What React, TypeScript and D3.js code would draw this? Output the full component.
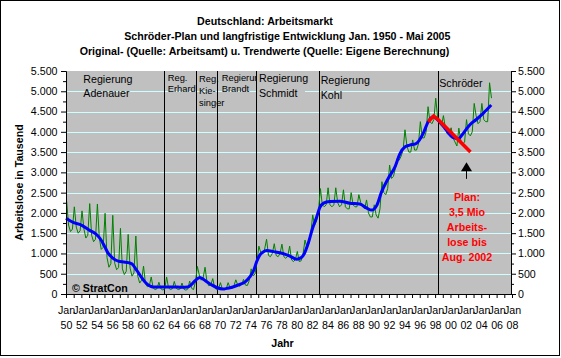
import React, { useEffect, useRef } from 'react';
import * as d3 from 'd3';

// Arbeitslose in Tausend (Original), je Jahr Werte fuer Feb, Mai, Aug, Nov
const sampleMonths = [2, 5, 8, 11];
const original = [
    [1950, 2290, 1700, 1540, 1600],
    [1951, 2150, 1650, 1500, 1560],
    [1952, 2050, 1600, 1380, 1450],
    [1953, 2230, 1450, 1290, 1350],
    [1954, 2220, 1380, 1100, 1150],
    [1955, 1990, 900, 660, 750],
    [1956, 1940, 760, 600, 650],
    [1957, 1620, 620, 480, 560],
    [1958, 1470, 640, 440, 520],
    [1959, 1430, 440, 270, 340],
    [1960, 690, 250, 180, 200],
    [1961, 420, 150, 110, 130],
    [1962, 290, 130, 100, 120],
    [1963, 420, 150, 110, 130],
    [1964, 310, 140, 110, 125],
    [1965, 270, 120, 95, 120],
    [1966, 320, 140, 110, 300],
    [1967, 680, 470, 340, 400],
    [1968, 660, 300, 200, 230],
    [1969, 380, 150, 110, 130],
    [1970, 280, 120, 100, 130],
    [1971, 280, 150, 130, 200],
    [1972, 350, 220, 190, 230],
    [1973, 360, 220, 210, 330],
    [1974, 620, 450, 490, 800],
    [1975, 1180, 1020, 1000, 1110],
    [1976, 1350, 950, 920, 1000],
    [1977, 1240, 950, 920, 1000],
    [1978, 1230, 920, 880, 930],
    [1979, 1180, 840, 800, 850],
    [1980, 1050, 800, 820, 1000],
    [1981, 1330, 1150, 1250, 1500],
    [1982, 1950, 1700, 1800, 2050],
    [1983, 2600, 2200, 2150, 2200],
    [1984, 2620, 2200, 2150, 2200],
    [1985, 2620, 2250, 2150, 2200],
    [1986, 2570, 2150, 2100, 2100],
    [1987, 2500, 2200, 2150, 2150],
    [1988, 2450, 2250, 2150, 2100],
    [1989, 2320, 2000, 1900, 1900],
    [1990, 2200, 1950, 1870, 2100],
    [1991, 2770, 2500, 2450, 2600],
    [1992, 3180, 2850, 2900, 3100],
    [1993, 3350, 3300, 3400, 3550],
    [1994, 4050, 3650, 3500, 3500],
    [1995, 3800, 3550, 3550, 3700],
    [1996, 4250, 3850, 3850, 4000],
    [1997, 4620, 4250, 4200, 4300],
    [1998, 4830, 4350, 4200, 4150],
    [1999, 4400, 4100, 3950, 3950],
    [2000, 4100, 3850, 3750, 3650],
    [2001, 4090, 3800, 3700, 3750],
    [2002, 4300, 3950, 3900, 4000],
    [2003, 4700, 4400, 4200, 4250],
    [2004, 4700, 4300, 4250, 4250],
    [2005, 5210, 4830]
];

// Trendwerte [Jahr, Tausend]
const trend = [
    [1950.0, 1870], [1951.0, 1760], [1952.0, 1700], [1953.0, 1580], [1954.0, 1460],
    [1954.5, 1350], [1955.0, 1180], [1955.5, 1000], [1956.0, 900], [1956.8, 810],
    [1957.5, 790], [1958.1, 775], [1958.6, 740], [1959.0, 640], [1959.5, 500],
    [1959.9, 390], [1960.4, 270], [1960.8, 210], [1961.3, 175], [1962.0, 170],
    [1963.0, 170], [1964.0, 175], [1965.0, 165], [1965.8, 170], [1966.3, 230],
    [1966.8, 330], [1967.4, 410], [1967.9, 360], [1968.4, 290], [1968.9, 230],
    [1969.6, 160], [1970.4, 125], [1971.0, 140], [1971.8, 180], [1972.6, 235],
    [1973.3, 300], [1973.9, 420], [1974.4, 580], [1974.8, 800], [1975.2, 960],
    [1975.6, 1030], [1976.1, 1070], [1977.0, 1045], [1978.2, 1000], [1979.1, 935],
    [1980.0, 860], [1980.6, 900], [1981.0, 1000], [1981.5, 1250], [1982.0, 1580],
    [1982.6, 1900], [1983.0, 2130], [1983.5, 2240], [1984.3, 2280], [1985.6, 2290],
    [1986.9, 2240], [1988.2, 2220], [1989.1, 2120], [1989.75, 2070], [1990.4, 2180],
    [1991.0, 2500], [1991.9, 2850], [1992.8, 3140], [1993.4, 3450], [1994.1, 3630],
    [1994.7, 3670], [1995.6, 3720], [1996.5, 3980], [1997.1, 4250], [1997.8, 4370],
    [1998.5, 4260], [1999.3, 4080], [2000.3, 3860], [2001.0, 3830], [2001.65, 3960],
    [2002.5, 4170], [2003.4, 4310], [2004.25, 4455], [2005.3, 4660]
];

// Schroeder-Plan: 3,5 Mio bis Aug. 2002
const plan = [[1997.1, 4250], [1997.8, 4390], [1998.4, 4300], [2002.6, 3500]];
const planArrow = { year: 2002, from: 2840, to: 3250 };
const planText = ['Plan:', '3,5 Mio', 'Arbeits-', 'lose bis', 'Aug. 2002'];

// Regierungswechsel
const governments = [
    { start: 1950, labelAt: 1952.25, lines: ['Regierung', 'Adenauer'], small: false, top: 82.7, gap: 14.7 },
    { start: 1962.74, labelAt: 1963.23, lines: ['Reg.', 'Erhard'], small: true, top: 81, gap: 11.3 },
    { start: 1966.91, labelAt: 1967.3, lines: ['Reg.', 'Kie-', 'singer'], small: true, top: 81.5, gap: 12.3 },
    { start: 1969.6, labelAt: 1970.25, lines: ['Regierung', 'Brandt'], small: true, top: 81, gap: 10.7 },
    { start: 1974.71, labelAt: 1975.1, lines: ['Regierung', 'Schmidt'], small: false, top: 82.3, gap: 15 },
    { start: 1982.9, labelAt: 1983.12, lines: ['Regierung', 'Kohl'], small: false, top: 84, gap: 15.3 },
    { start: 1998.37, labelAt: 1998.54, lines: ['Schröder'], small: false, top: 86.7, gap: 15 }
];

const yTicks = [0, 500, 1000, 1500, 2000, 2500, 3000, 3500, 4000, 4500, 5000, 5500];
const yMinorTicks = [250, 750, 1250, 1750, 2250, 2750, 3250, 3750, 4250, 4750, 5250];
const xLabelYears = [1950, 1952, 1954, 1956, 1958, 1960, 1962, 1964, 1966, 1968, 1970, 1972, 1974,
    1976, 1978, 1980, 1982, 1984, 1986, 1988, 1990, 1992, 1994, 1996, 1998, 2000, 2002, 2004, 2006, 2008];

const titleLines = [
    'Deutschland: Arbeitsmarkt',
    'Schröder-Plan und langfristige Entwicklung Jan. 1950 -  Mai 2005',
    'Original- (Quelle: Arbeitsamt) u. Trendwerte (Quelle: Eigene Berechnung)'
];

const FONT = '"Liberation Sans", Arial, Helvetica, sans-serif';
const FS = 10.67;
const FS_SMALL = 9.33;

const de = d3.formatLocale({ decimal: ',', thousands: '.', grouping: [3], currency: ['', ' €'] });
const fmt = de.format(',');

const App = () => {
    const svgRef = useRef(null);

    useEffect(() => {
        const svg = d3.select(svgRef.current);
        svg.selectAll('*').remove();

        const x = d3.scaleLinear().domain([1950, 2008]).range([66, 512]);
        const y = d3.scaleLinear().domain([0, 5500]).range([294, 71]);

        // chart frame
        svg.append('rect')
            .attr('x', 0.5).attr('y', 0.5).attr('width', 559).attr('height', 355)
            .attr('fill', '#ffffff').attr('stroke', '#000000');

        // title
        const titleX = [265, 287.3, 264.5];
        const titleY = [25, 40, 55];
        titleLines.forEach((t, i) => {
            svg.append('text')
                .attr('x', titleX[i]).attr('y', titleY[i])
                .attr('text-anchor', 'middle')
                .attr('font-family', FONT).attr('font-size', FS).attr('font-weight', 'bold')
                .text(t);
        });

        // plot area
        svg.append('rect')
            .attr('x', x(1950)).attr('y', y(5500))
            .attr('width', x(2008) - x(1950)).attr('height', y(0) - y(5500))
            .attr('fill', '#c0c0c0');

        svg.append('g')
            .selectAll('line')
            .data(yTicks.filter(d => d > 0 && d < 5500))
            .join('line')
            .attr('x1', x(1950)).attr('x2', x(2008))
            .attr('y1', d => Math.round(y(d)) + 0.5).attr('y2', d => Math.round(y(d)) + 0.5)
            .attr('stroke', '#ccffff');

        // government change lines
        svg.append('g')
            .selectAll('line')
            .data(governments.filter(g => g.start > 1950))
            .join('line')
            .attr('x1', d => Math.round(x(d.start)) + 0.5).attr('x2', d => Math.round(x(d.start)) + 0.5)
            .attr('y1', y(5500)).attr('y2', y(0))
            .attr('stroke', '#000000');

        // series
        const origPoints = [];
        original.forEach(row => {
            row.slice(1).forEach((v, i) => {
                origPoints.push([row[0] + (sampleMonths[i] - 1) / 12, v]);
            });
        });
        const line = d3.line().x(d => x(d[0])).y(d => y(d[1]));

        svg.append('path').datum(origPoints)
            .attr('d', line).attr('fill', 'none')
            .attr('stroke', '#008000').attr('stroke-width', 1);

        svg.append('path').datum(trend)
            .attr('d', line.curve(d3.curveMonotoneX)).attr('fill', 'none')
            .attr('stroke', '#0000ff').attr('stroke-width', 3);

        svg.append('path').datum(plan)
            .attr('d', d3.line().x(d => x(d[0])).y(d => y(d[1]))).attr('fill', 'none')
            .attr('stroke', '#ff0000').attr('stroke-width', 3.5);

        // government labels
        governments.forEach((g, gi) => {
            const lx = x(g.labelAt);
            if (gi === 4) {
                // Schmidt label box hides the end of Brandt's label
                svg.append('rect')
                    .attr('x', Math.round(x(g.start)) + 1).attr('y', 73)
                    .attr('width', 48).attr('height', 28)
                    .attr('fill', '#c0c0c0');
            }
            g.lines.forEach((t, i) => {
                svg.append('text')
                    .attr('x', lx).attr('y', g.top + i * g.gap)
                    .attr('font-family', FONT)
                    .attr('font-size', g.small ? FS_SMALL : FS)
                    .text(t);
            });
        });

        // y axes
        const styleAxis = (g) => {
            g.attr('font-family', FONT).attr('font-size', FS);
            g.selectAll('text').attr('fill', '#000000');
            g.selectAll('line, path').attr('stroke', '#000000');
        };

        svg.append('g')
            .attr('transform', `translate(${x(1950)},0)`)
            .call(d3.axisLeft(y).tickValues(yTicks).tickFormat(fmt).tickSize(5).tickPadding(3.5).tickSizeOuter(0))
            .call(styleAxis);
        svg.append('g')
            .attr('transform', `translate(${x(1950)},0)`)
            .call(d3.axisLeft(y).tickValues(yMinorTicks).tickFormat(() => '').tickSize(3).tickSizeOuter(0))
            .call(styleAxis);

        svg.append('g')
            .attr('transform', `translate(${x(2008) - 1},0)`)
            .call(d3.axisRight(y).tickValues(yTicks).tickFormat(fmt).tickSize(5).tickPadding(2).tickSizeOuter(0))
            .call(styleAxis);
        svg.append('g')
            .attr('transform', `translate(${x(2008) - 1},0)`)
            .call(d3.axisRight(y).tickValues(yMinorTicks).tickFormat(() => '').tickSize(3).tickSizeOuter(0))
            .call(styleAxis);

        // x axis
        svg.append('g')
            .attr('transform', `translate(0,${y(0)})`)
            .call(d3.axisBottom(x).tickValues(d3.range(1950, 2009)).tickFormat(() => '').tickSize(4).tickSizeOuter(0))
            .call(styleAxis);

        const xl = svg.append('g')
            .attr('font-family', FONT).attr('font-size', FS)
            .attr('text-anchor', 'middle');
        xl.selectAll('text.jan')
            .data(xLabelYears).join('text')
            .attr('class', 'jan')
            .attr('x', d => x(d) + 0.5).attr('y', 313.5)
            .text('Jan');
        xl.selectAll('text.yr')
            .data(xLabelYears).join('text')
            .attr('class', 'yr')
            .attr('x', d => x(d) + 0.5).attr('y', 328.5)
            .text(d => d3.format('02d')(d % 100));

        // axis titles
        svg.append('text')
            .attr('transform', `translate(22.5,${(y(0) + y(5500)) / 2}) rotate(-90)`)
            .attr('text-anchor', 'middle')
            .attr('font-family', FONT).attr('font-size', FS).attr('font-weight', 'bold')
            .text('Arbeitslose in Tausend');

        svg.append('text')
            .attr('x', 282.5).attr('y', 347)
            .attr('text-anchor', 'middle')
            .attr('font-family', FONT).attr('font-size', FS).attr('font-weight', 'bold')
            .text('Jahr');

        // copyright
        svg.append('text')
            .attr('x', 72).attr('y', 291.5)
            .attr('font-family', FONT).attr('font-size', FS).attr('font-weight', 'bold')
            .text('© StratCon');

        // plan annotation
        const ax = Math.round(x(planArrow.year)) + 0.5;
        svg.append('line')
            .attr('x1', ax).attr('x2', ax)
            .attr('y1', y(planArrow.from)).attr('y2', y(planArrow.to) + 8)
            .attr('stroke', '#000000');
        svg.append('path')
            .attr('d', `M${ax},${y(planArrow.to)} L${ax + 5.5},${y(planArrow.to) + 9} L${ax - 5.5},${y(planArrow.to) + 9} Z`)
            .attr('fill', '#000000');

        planText.forEach((t, i) => {
            svg.append('text')
                .attr('x', ax + 0.5).attr('y', 201 + i * 15)
                .attr('text-anchor', 'middle')
                .attr('font-family', FONT).attr('font-size', FS).attr('font-weight', 'bold')
                .attr('fill', '#ff0000')
                .text(t);
        });
    }, []);

    return (
        <svg ref={svgRef} width={561} height={358}
            style={{ position: 'absolute', left: 0, top: 0, background: '#ffffff' }} />
    );
};

export default App;
